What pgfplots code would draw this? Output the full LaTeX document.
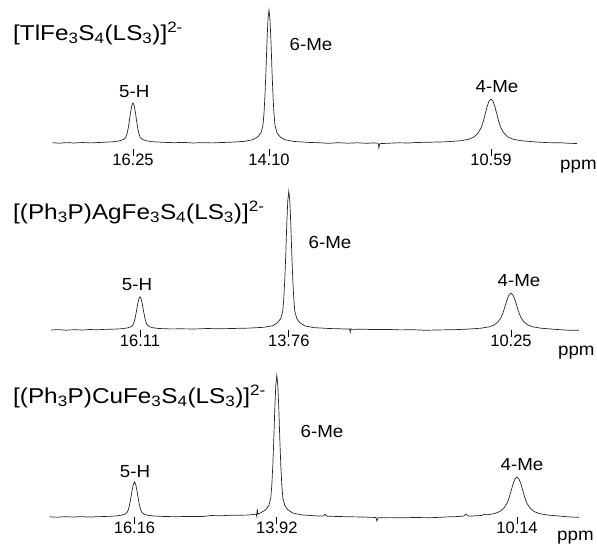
\documentclass[border=0pt]{standalone}
\usepackage{fontspec}
\setmainfont{Liberation Sans}
\newfontfamily\widefont{Liberation Sans}[FakeStretch=1.07]
\newfontfamily\titlefont{Liberation Sans}[FakeStretch=1.13]
\usepackage{pgfplots}
\pgfplotsset{compat=1.18}

\newcommand\lbl{\widefont\fontsize{17.5bp}{20bp}\selectfont}
\newcommand\ttl{\titlefont\fontsize{21.5bp}{25bp}\selectfont}

\pgfplotsset{
  spec/.style={
    scale only axis, width=530bp,
    x dir=reverse,
    axis line style={draw=none},
    ytick=\empty,
    xtick pos=left,
    tick align=inside,
    major tick length=7bp,
    tick style={black, line width=0.8bp},
    xticklabel style={font=\fontsize{16.5bp}{18bp}\selectfont, inner sep=0pt, anchor=north, yshift=2bp},
    clip=false,
  },
  nmr/.style={black!85, line width=0.7bp, no marks},
}

\begin{document}
\begin{tikzpicture}
\useasboundingbox (0,0) rectangle (597bp,-546bp);

% [TlFe3S4(LS3)]2-
\begin{axis}[spec, at={(50bp,-156bp)}, anchor=south west,
    xmin=9.183, xmax=17.562, ymin=-13, ymax=140, height=153bp,
    xtick={16.25,14.10,10.59}, xticklabels={16.25,14.10,10.59}]
  \addplot[nmr] coordinates {
    (17.52,0.3) (17.42,-0.2) (17.30,0.4) (17.18,0.0) (17.05,0.5) (16.92,0.1) (16.82,0.4)
    (16.724,0.7) (16.55,1.3) (16.455,2.3) (16.402,3.5) (16.364,5.6) (16.345,9.0) (16.326,14.6)
    (16.307,22.2) (16.288,30.6) (16.269,37.4) (16.25,40.2) (16.231,37.4) (16.212,30.6)
    (16.193,22.2) (16.174,14.6) (16.155,9.0) (16.136,5.6) (16.098,3.5) (16.045,2.3) (15.95,1.3) (15.776,0.7)
    (15.60,0.3) (15.45,0.6) (15.30,0.0) (15.15,0.4) (15.00,0.1) (14.85,0.5)
    (14.732,0.7) (14.495,1.6) (14.353,3.3) (14.274,6.3) (14.226,10.3) (14.195,17.5) (14.179,29.3)
    (14.163,47.9) (14.147,73.2) (14.132,101.1) (14.116,123.7) (14.10,133) (14.084,123.7)
    (14.068,101.1) (14.053,73.2) (14.037,47.9) (14.021,29.3) (14.005,17.5) (13.974,10.3)
    (13.926,6.3) (13.847,3.2) (13.705,1.5) (13.468,0.6)
    (13.30,0.2) (13.15,-0.3) (13.00,0.3) (12.85,-0.2) (12.70,0.2) (12.55,-0.3) (12.45,0.1)
    (12.375,-0.2) (12.362,-5.0) (12.352,-1.2) (12.34,-0.6) (12.20,-0.2) (12.05,0.2) (11.90,0.0) (11.80,0.4)
    (11.696,0.6) (11.55,0.8) (11.301,1.2) (11.064,2.3) (10.938,3.8) (10.859,6.0) (10.795,9.9)
    (10.748,15.0) (10.716,20.7) (10.685,28.2) (10.653,36.1) (10.622,41.8) (10.59,44) (10.558,41.8)
    (10.527,36.1) (10.495,28.2) (10.464,20.7) (10.432,15.0) (10.385,9.9) (10.321,6.0) (10.242,3.8)
    (10.116,2.3) (9.879,1.0) (9.70,0.4) (9.484,0.2) (9.35,-0.3) (9.23,-0.5)
  };
  \node[anchor=base, inner sep=0pt, font=\lbl] at (axis cs:16.23,46) {5-H};
  \node[anchor=base, inner sep=0pt, font=\lbl] at (axis cs:13.436,93) {6-Me};
  \node[anchor=base, inner sep=0pt, font=\lbl] at (axis cs:10.495,51) {4-Me};
  \node[anchor=base west, inner sep=0pt, font=\lbl] at (axis cs:9.499,-26) {ppm};
\end{axis}

% [(Ph3P)AgFe3S4(LS3)]2-
\begin{axis}[spec, at={(50bp,-337bp)}, anchor=south west,
    xmin=9.160, xmax=17.532, ymin=-7, ymax=145, height=152bp,
    xtick={16.11,13.76,10.25}, xticklabels={16.11,13.76,10.25}]
  \addplot[nmr] coordinates {
    (17.516,0.0) (17.40,0.4) (17.28,-0.2) (17.15,0.3) (17.02,0.0) (16.90,0.5) (16.78,0.2) (16.68,0.6)
    (16.584,0.7) (16.41,1.2) (16.315,2.0) (16.262,3.0) (16.224,4.8) (16.205,7.6) (16.186,12.2)
    (16.167,18.5) (16.148,25.4) (16.129,31.0) (16.11,33.3) (16.091,31.0) (16.072,25.4) (16.053,18.6)
    (16.034,12.3) (16.015,7.7) (15.996,5.0) (15.958,3.2) (15.905,2.2) (15.81,1.5) (15.636,1.1)
    (15.45,1.2) (15.25,1.0) (15.05,1.5) (14.85,1.2) (14.60,1.6)
    (14.392,1.9) (14.155,2.7) (14.013,4.3) (13.934,7.5) (13.886,11.6) (13.855,19.0) (13.839,31.4)
    (13.823,50.6) (13.807,76.8) (13.792,105.8) (13.776,129.2) (13.76,138.8) (13.744,129.2)
    (13.728,105.8) (13.713,76.8) (13.697,50.6) (13.681,31.3) (13.665,18.9) (13.634,11.5)
    (13.586,7.3) (13.507,4.1) (13.365,2.4) (13.128,1.5)
    (12.95,1.2) (12.85,0.9) (12.80,1.0) (12.79,-2.0) (12.78,1.2) (12.76,0.6) (12.60,0.8) (12.40,0.4)
    (12.20,0.6) (12.00,0.1) (11.80,0.3) (11.60,-0.3) (11.45,0.0)
    (11.356,0.1) (11.15,0.3) (10.961,0.8) (10.724,1.8) (10.598,3.1) (10.519,4.9) (10.455,8.1)
    (10.408,12.4) (10.376,17.2) (10.345,23.5) (10.313,30.1) (10.282,35.0) (10.25,36.8) (10.218,35.0)
    (10.187,30.1) (10.155,23.5) (10.124,17.2) (10.092,12.4) (10.045,8.1) (9.981,4.9) (9.902,3.1)
    (9.776,1.8) (9.539,0.6) (9.35,-0.2) (9.176,-0.3)
  };
  \node[anchor=base, inner sep=0pt, font=\lbl] at (axis cs:16.158,40) {5-H};
  \node[anchor=base, inner sep=0pt, font=\lbl] at (axis cs:13.109,82) {6-Me};
  \node[anchor=base, inner sep=0pt, font=\lbl] at (axis cs:10.124,44) {4-Me};
  \node[anchor=base west, inner sep=0pt, font=\lbl] at (axis cs:9.508,-25) {ppm};
\end{axis}

% [(Ph3P)CuFe3S4(LS3)]2-
\begin{axis}[spec, at={(50bp,-524bp)}, anchor=south west,
    xmin=9.148, xmax=17.490, ymin=-7, ymax=145, height=152bp,
    xtick={16.16,13.92,10.14}, xticklabels={16.16,13.92,10.14}]
  \addplot[nmr] coordinates {
    (17.490,0.2) (17.38,-0.2) (17.25,0.3) (17.12,0.0) (17.00,0.4) (16.88,-0.1) (16.76,0.3)
    (16.634,0.5) (16.46,1.0) (16.365,1.8) (16.312,2.8) (16.274,4.8) (16.255,7.7) (16.236,12.6)
    (16.217,19.3) (16.198,26.6) (16.179,32.6) (16.16,35) (16.141,32.6) (16.122,26.6) (16.103,19.3)
    (16.084,12.6) (16.065,7.7) (16.046,4.8) (16.008,2.8) (15.955,1.8) (15.86,1.0) (15.686,0.5)
    (15.50,0.3) (15.30,0.6) (15.10,0.4) (14.95,1.5) (14.80,1.2) (14.65,1.8) (14.552,1.7) (14.40,1.9) (14.315,2.3)
    (14.245,2.9) (14.235,0.5) (14.228,8.0) (14.22,3.0) (14.173,4.2) (14.094,7.3) (14.046,11.5)
    (14.015,19.1) (13.999,31.6) (13.983,51.4) (13.967,78.2) (13.952,107.8) (13.936,131.7)
    (13.92,141.6) (13.904,131.7) (13.888,107.8) (13.873,78.2) (13.857,51.4) (13.841,31.6)
    (13.825,19.0) (13.794,11.4) (13.746,7.2) (13.667,3.9) (13.525,2.1) (13.288,1.1)
    (13.19,1.0) (13.16,2.6) (13.13,0.8) (12.95,0.5) (12.75,0.2) (12.55,0.0) (12.45,-0.3) (12.36,-0.5)
    (12.345,-4.0) (12.33,-0.8) (12.15,-0.6) (11.95,-0.8) (11.75,-0.5) (11.50,-0.7) (11.35,-0.3)
    (11.246,0.1) (11.10,0.4) (10.98,0.9) (10.943,3.0) (10.91,1.1) (10.851,1.0) (10.70,1.5)
    (10.65,2.7) (10.614,2.1) (10.488,3.5) (10.409,5.5) (10.345,9.0) (10.298,13.6) (10.266,18.8)
    (10.235,25.6) (10.203,32.8) (10.172,38) (10.14,40) (10.108,38) (10.077,32.8) (10.045,25.6)
    (10.014,18.8) (9.982,13.6) (9.935,9.0) (9.871,5.5) (9.792,3.5) (9.666,2.0) (9.429,0.7)
    (9.30,0.0) (9.163,-0.3)
  };
  \node[anchor=base, inner sep=0pt, font=\lbl] at (axis cs:16.152,40) {5-H};
  \node[anchor=base, inner sep=0pt, font=\lbl] at (axis cs:13.209,80) {6-Me};
  \node[anchor=base, inner sep=0pt, font=\lbl] at (axis cs:10.061,47) {4-Me};
  \node[anchor=base west, inner sep=0pt, font=\lbl] at (axis cs:9.510,-23) {ppm};
\end{axis}

% compound names
\node[anchor=base west, inner sep=0pt, font=\ttl] at (13bp,-40bp)
  {[TlFe\textsubscript{3}S\textsubscript{4}(LS\textsubscript{3})]\textsuperscript{2-}};
\node[anchor=base west, inner sep=0pt, font=\ttl] at (13bp,-219bp)
  {[(Ph\textsubscript{3}P)AgFe\textsubscript{3}S\textsubscript{4}(LS\textsubscript{3})]\textsuperscript{2-}};
\node[anchor=base west, inner sep=0pt, font=\ttl] at (13bp,-403bp)
  {[(Ph\textsubscript{3}P)CuFe\textsubscript{3}S\textsubscript{4}(LS\textsubscript{3})]\textsuperscript{2-}};
\end{tikzpicture}
\end{document}
